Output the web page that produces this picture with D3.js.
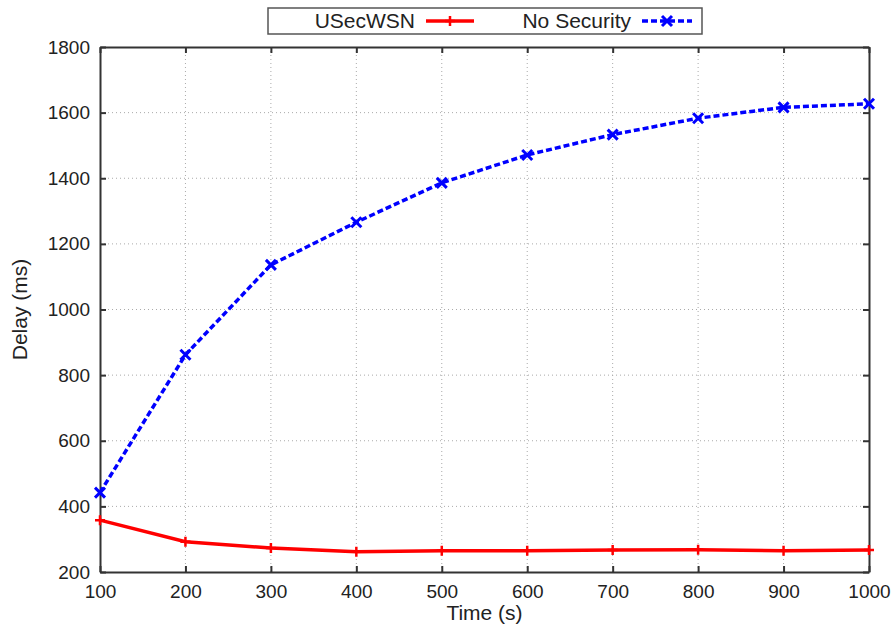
<!DOCTYPE html>
<html>
<head>
<meta charset="utf-8">
<script src="https://cdn.jsdelivr.net/npm/d3@7"></script>
<style>
body { margin: 0; background: #fff; }
text { font-family: "Liberation Sans", Arial, sans-serif; fill: #222; }
</style>
</head>
<body>
<div class="viz"></div>
<script>
var times = [100, 200, 300, 400, 500, 600, 700, 800, 900, 1000];
var usecwsn = [358, 292, 273, 262, 265, 265, 267, 268, 265, 267];
var nosec = [442, 862, 1136, 1266, 1386, 1471, 1533, 1583, 1616, 1627];
var yTicks = [200, 400, 600, 800, 1000, 1200, 1400, 1600, 1800];

var w = 893;
var h = 627;
var padL = 100, padR = 869, padT = 47, padB = 572;

var xScale = d3.scaleLinear().domain([100, 1000]).range([padL, padR]);
var yScale = d3.scaleLinear().domain([200, 1800]).range([padB, padT]);

var svg = d3.select(".viz")
    .append("svg")
    .attr("width", w)
    .attr("height", h);

// grid
svg.selectAll(".gx")
    .data(times.slice(1, -1))
    .enter()
    .append("line")
    .attr("x1", function(d) { return xScale(d); })
    .attr("x2", function(d) { return xScale(d); })
    .attr("y1", padT)
    .attr("y2", padB)
    .attr("stroke", "#aaa")
    .attr("stroke-width", 1)
    .attr("stroke-dasharray", "1,3");

svg.selectAll(".gy")
    .data(yTicks.slice(1, -1))
    .enter()
    .append("line")
    .attr("y1", function(d) { return yScale(d); })
    .attr("y2", function(d) { return yScale(d); })
    .attr("x1", padL)
    .attr("x2", padR)
    .attr("stroke", "#aaa")
    .attr("stroke-width", 1)
    .attr("stroke-dasharray", "1,3");

//// AXES ////
var fmt = d3.format("d");
var xAxis = d3.axisBottom(xScale).tickValues(times).tickFormat(fmt).tickSizeInner(-6).tickSizeOuter(0).tickPadding(10);
var yAxis = d3.axisLeft(yScale).tickValues(yTicks).tickFormat(fmt).tickSizeInner(-6).tickSizeOuter(0).tickPadding(10);

var gx = svg.append("g")
    .attr("transform", "translate(0," + padB + ")")
    .call(xAxis);
var gy = svg.append("g")
    .attr("transform", "translate(" + padL + ",0)")
    .call(yAxis);
var gx2 = svg.append("g")
    .attr("transform", "translate(0," + padT + ")")
    .call(d3.axisTop(xScale).tickValues(times).tickSizeInner(-6).tickSizeOuter(0).tickFormat(""));
var gy2 = svg.append("g")
    .attr("transform", "translate(" + padR + ",0)")
    .call(d3.axisRight(yScale).tickValues(yTicks).tickSizeInner(-6).tickSizeOuter(0).tickFormat(""));

[gx, gy, gx2, gy2].forEach(function(g) {
    g.select(".domain").attr("stroke", "#333").attr("stroke-width", 2);
    g.selectAll(".tick line").attr("stroke", "#333").attr("stroke-width", 2);
    g.selectAll(".tick text").attr("font-size", "19px").attr("fill", "#222")
        .style("font-family", "'Liberation Sans', Arial, sans-serif");
});
gx.selectAll(".tick text").attr("dy", "0.85em");

//// LINES ////
var line = d3.line()
    .x(function(d, i) { return xScale(times[i]); })
    .y(function(d) { return yScale(d); });

svg.append("path")
    .datum(usecwsn)
    .attr("d", line)
    .attr("fill", "none")
    .attr("stroke", "#ff0000")
    .attr("stroke-width", 3.5);

svg.selectAll(".pr")
    .data(usecwsn)
    .enter()
    .append("path")
    .attr("transform", function(d, i) { return "translate(" + xScale(times[i]) + "," + yScale(d) + ")"; })
    .attr("d", "M-5,0H5M0,-5V5")
    .attr("stroke", "#ff0000")
    .attr("stroke-width", 2.5);

svg.append("path")
    .datum(nosec)
    .attr("d", line)
    .attr("fill", "none")
    .attr("stroke", "#0000ff")
    .attr("stroke-width", 3.5)
    .attr("stroke-dasharray", "6,3");

svg.selectAll(".pb")
    .data(nosec)
    .enter()
    .append("path")
    .attr("transform", function(d, i) { return "translate(" + xScale(times[i]) + "," + yScale(d) + ")"; })
    .attr("d", "M-5,-5L5,5M-5,5L5,-5")
    .attr("stroke", "#0000ff")
    .attr("stroke-width", 3);

//// LEGEND ////
svg.append("rect")
    .attr("x", 268).attr("y", 8)
    .attr("width", 434).attr("height", 26)
    .attr("fill", "#fff")
    .attr("stroke", "#555")
    .attr("stroke-width", 1.5);

svg.append("text")
    .attr("x", 415).attr("y", 28)
    .attr("text-anchor", "end")
    .attr("font-size", "21px")
    .text("USecWSN");
svg.append("line")
    .attr("x1", 426).attr("x2", 474).attr("y1", 21).attr("y2", 21)
    .attr("stroke", "#ff0000").attr("stroke-width", 3.5);
svg.append("path")
    .attr("transform", "translate(450,21)")
    .attr("d", "M-5,0H5M0,-5V5")
    .attr("stroke", "#ff0000").attr("stroke-width", 2.5);

svg.append("text")
    .attr("x", 631).attr("y", 28)
    .attr("text-anchor", "end")
    .attr("font-size", "21px")
    .text("No Security");
svg.append("line")
    .attr("x1", 642).attr("x2", 692).attr("y1", 21).attr("y2", 21)
    .attr("stroke", "#0000ff").attr("stroke-width", 3.5)
    .attr("stroke-dasharray", "6,3");
svg.append("path")
    .attr("transform", "translate(667,21)")
    .attr("d", "M-5,-5L5,5M-5,5L5,-5")
    .attr("stroke", "#0000ff").attr("stroke-width", 3);

//// AXIS LABELS ////
svg.append("text")
    .attr("x", (padL + padR) / 2)
    .attr("y", 620)
    .attr("text-anchor", "middle")
    .attr("font-size", "21px")
    .text("Time (s)");

svg.append("text")
    .attr("transform", "translate(27," + ((padT + padB) / 2) + ") rotate(-90)")
    .attr("text-anchor", "middle")
    .attr("font-size", "21px")
    .text("Delay (ms)");
</script>
</body>
</html>
